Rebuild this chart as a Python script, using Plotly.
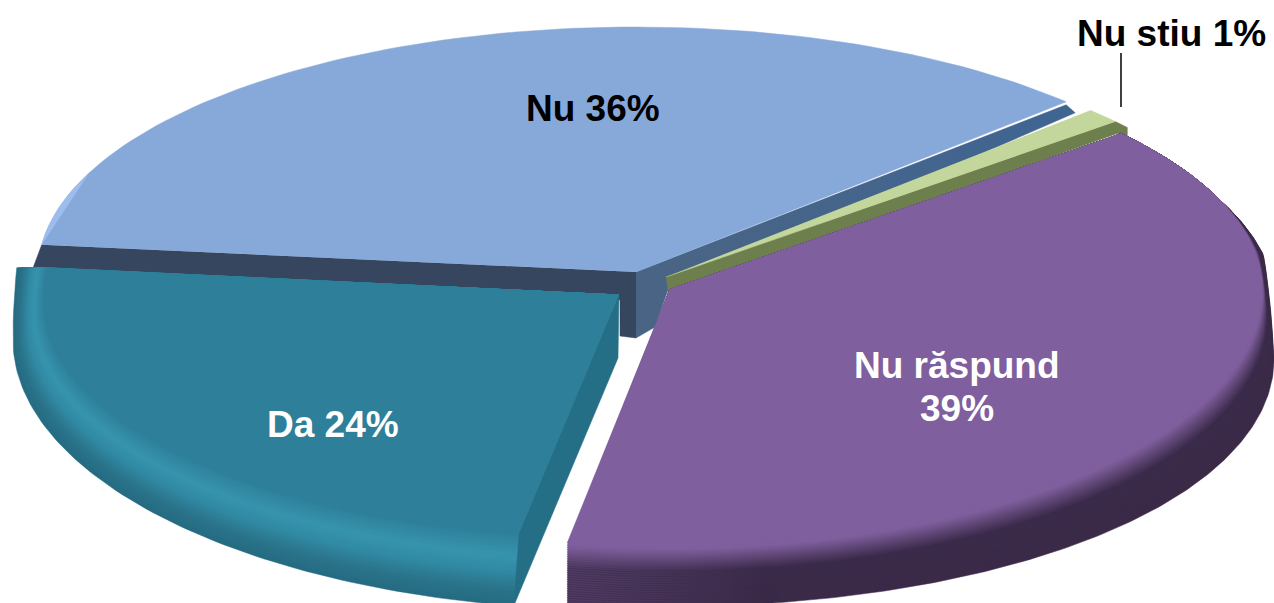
import math
import plotly.graph_objects as go

# --- data ---
categories = ["Nu", "Da", "Nu răspund", "Nu stiu"]
values = [36, 24, 39, 1]
start_angle = 44.0  # degrees, where the "Nu" slice begins, going counter-clockwise

W, H = 1274, 603

# --- geometry of the tilted pie (pixel scale of the axes) ---
FACE = {"Nu": "#87A9DA", "Da": "#2E7F99", "Nu răspund": "#7F5F9D", "Nu stiu": "#C3D69B"}
CENTER = {"Nu": (636, 272), "Da": (619, 295), "Nu răspund": (670, 289), "Nu stiu": (666, 277)}
RIM = {
    "Nu":         dict(rx=(598, 598), front=(245, 245), back=245, shift=(0, 0), cap=1),
    "Nu stiu":    dict(rx=(590, 590), front=(240, 240), back=240, shift=(0, 0), cap=1),
    "Da":         dict(rx=(575, 606), front=(234, 270), back=245, shift=(8, 45), cap=6.4),
    "Nu răspund": dict(rx=(592, 604), front=(258, 258), back=240, shift=(0, 70), cap=8),
}
BANDS = {
    "Da": [(0, "#2E7F99"), (.33, "#3794AE"), (.55, "#3189A3"), (.8, "#2A7389"), (1, "#256C83")],
    "Nu răspund": [(0, "#7F5F9D"), (.05, "#7F5F9D"), (.42, "#3B2B4A"), (1, "#3A2A48")],
}
BAND_COUNT = 26


def hex2rgb(h):
    return tuple(int(h[i:i + 2], 16) for i in (1, 3, 5))


def blend(a, b, f):
    return "rgb(%d,%d,%d)" % tuple(round(x + (y - x) * f) for x, y in zip(hex2rgb(a), hex2rgb(b)))


def mix(stops, t):
    for (t0, c0), (t1, c1) in zip(stops, stops[1:]):
        if t <= t1:
            f = 0 if t1 == t0 else (t - t0) / (t1 - t0)
            return blend(c0, c1, f)
    return blend(stops[-1][1], stops[-1][1], 0)


def point(name, deg, t=0.0):
    """Rim point of a slice. t=0 is the edge of the top face, t=1 the outer bottom edge."""
    g = RIM[name]
    cx, cy = CENTER[name]
    d = deg % 360
    ca, sa = math.cos(math.radians(d)), math.sin(math.radians(d))
    rx0, rx1 = g["rx"]
    ry0, ry1 = g["front"]
    s0, s1 = g["shift"]
    rx = rx0 + (rx1 - rx0) * t
    ry = ry0 + (ry1 - ry0) * t
    s = s0 + (s1 - s0) * t
    if name == "Nu răspund":
        if ca < 0:                    # the left end keeps a straight vertical edge
            rx = rx0
        if sa > 0:                    # the rim dies out towards the back
            rx = rx0 + (rx - rx0) * max(0.0, 1 - d / 22)
            s *= max(0.0, 1 - d / g["cap"])
        else:
            s *= 1 - 0.15 * sa * sa
    elif name == "Da":
        if sa > 0:
            s *= max(0.0, 1 - (180 - d) / g["cap"])
    if sa > 0:
        ry = g["back"]
    return (cx + rx * ca, cy - ry * sa + s)


def arc(name, a0, a1, t=0.0, n=90):
    return [point(name, a0 + (a1 - a0) * i / n, t) for i in range(n + 1)]


def off(p, dx, dy):
    return (p[0] + dx, p[1] + dy)


def poly(fig, pts, color, scale=None):
    kw = dict(fillcolor=color)
    if scale:
        kw = dict(fillgradient=dict(type="horizontal", colorscale=scale))
    fig.add_trace(go.Scatter(
        x=[p[0] for p in pts], y=[p[1] for p in pts], mode="lines", fill="toself",
        line=dict(color=color, width=0.5), hoverinfo="skip", showlegend=False, **kw,
    ))


# angular extent of every slice, from the values
spans = {}
cur = start_angle
for cat, val in zip(categories, values):
    spans[cat] = (cur, cur + val * 3.6)
    cur += val * 3.6

fig = go.Figure()

# --- "Nu" (blue): back slice with two cut walls ---
a0, a1 = spans["Nu"]
c = CENTER["Nu"]
p0, p1 = point("Nu", a0), point("Nu", a1)
poly(fig, [c, off(p0, 0, 3), off(p0, 9, 11), off(c, 32, 18), off(c, 19, 55), off(c, 0, 66)],
     "#46658C", scale=[[0, "#4A6484"], [1, "#3F6592"]])
poly(fig, [c, p1, off(p1, -9, 24), off(c, -16, 28), off(c, -16, 64), off(c, 0, 66)], "#36465F")
poly(fig, [c] + arc("Nu", a0, a1), FACE["Nu"])
poly(fig, arc("Nu", 156, a1, n=20), "#9CBDEE")

# --- "Nu stiu" (green): thin slice with olive wall ---
a0, a1 = spans["Nu stiu"]
c = CENTER["Nu stiu"]
pa = point("Nu stiu", a0)
poly(fig, [c, pa, off(pa, 12, 6), off(pa, 12, 16), off(pa, 2, 12), off(c, 2, 16)], "#6E7F4E")
poly(fig, [c] + arc("Nu stiu", a0, a1, n=8), FACE["Nu stiu"])

# --- "Nu răspund" (purple): exploded slice with dark rim, paler towards its left end ---
a0, a1 = spans["Nu răspund"]
c = CENTER["Nu răspund"]
stops = BANDS["Nu răspund"]
for i in range(BAND_COUNT, 0, -1):
    t = i / BAND_COUNT
    col = mix(stops, t)
    rgb = [int(v) for v in col[4:-1].split(",")]
    pale = "rgb(%d,%d,%d)" % tuple(round(v + (w - v) * 0.33) for v, w in zip(rgb, hex2rgb(FACE["Nu răspund"])))
    poly(fig, [c] + arc("Nu răspund", a0, a1, t, n=220), col, scale=[[0, pale], [0.28, col], [1, col]])
poly(fig, [c] + arc("Nu răspund", a0, a1, 0, n=220), FACE["Nu răspund"])

# --- "Da" (teal): exploded slice with light ridge and cut wall ---
a0, a1 = spans["Da"]
c = CENTER["Da"]
stops = BANDS["Da"]
for i in range(BAND_COUNT, 0, -1):
    t = i / BAND_COUNT
    poly(fig, [c] + arc("Da", a0, a1, t), mix(stops, t))
poly(fig, [c] + arc("Da", a0, a1, 0), FACE["Da"])
poly(fig, [c, off(c, -1, 63), point("Da", a1, 1), point("Da", a1, 0.2), point("Da", a1, 0)], "#256F86")

# --- leader line of the 1% slice ---
fig.add_trace(go.Scatter(x=[1121, 1121], y=[53, 107], mode="lines",
                         line=dict(color="#000000", width=1.5), hoverinfo="skip", showlegend=False))

# --- labels, built from the data ---
label_pos = {"Nu": (593, 108, "#000000"), "Da": (332.5, 424, "#FFFFFF"),
             "Nu răspund": (957, 365, "#FFFFFF"), "Nu stiu": (1171.5, 33, "#000000")}
for cat, val in zip(categories, values):
    x, y, col = label_pos[cat]
    font = dict(family="Liberation Sans", size=37, color=col)
    if cat == "Nu răspund":
        fig.add_annotation(x=x, y=y, text=f"<b>{cat}</b>", showarrow=False, font=font)
        fig.add_annotation(x=x, y=y + 43, text=f"<b>{val}%</b>", showarrow=False, font=font)
    else:
        fig.add_annotation(x=x, y=y, text=f"<b>{cat} {val}%</b>", showarrow=False, font=font)

fig.update_layout(
    width=W, height=H, margin=dict(l=0, r=0, t=0, b=0),
    paper_bgcolor="white", plot_bgcolor="white", showlegend=False,
    xaxis=dict(range=[0, W], visible=False, fixedrange=True),
    yaxis=dict(range=[H, 0], visible=False, fixedrange=True),
)
fig.write_html("out.html", config={"displayModeBar": False},
               post_script="document.body.style.margin='0';document.body.style.overflow='hidden';")
